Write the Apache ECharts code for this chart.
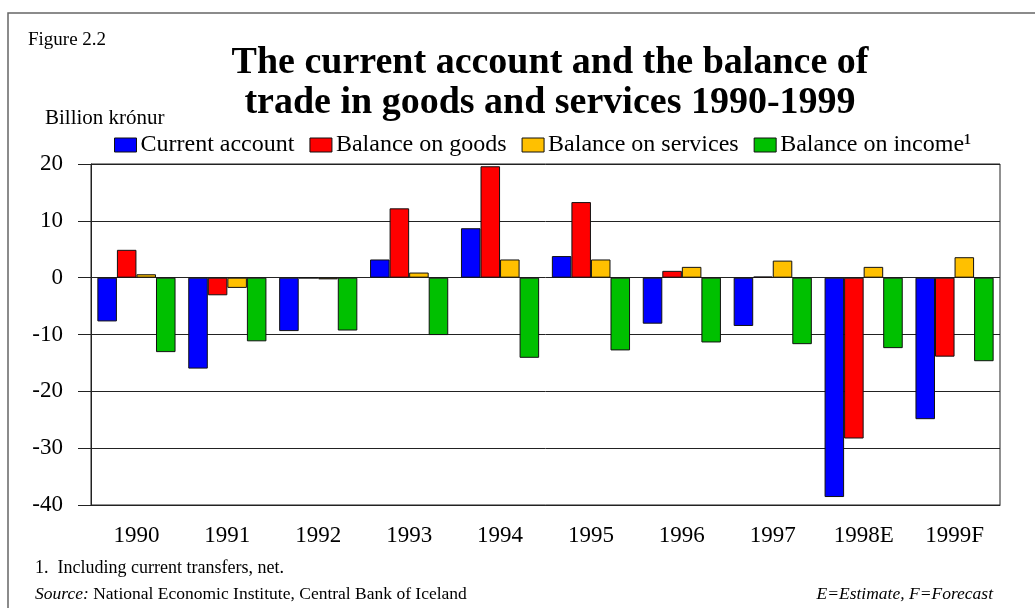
<!DOCTYPE html>
<html>
<head>
<meta charset="utf-8">
<script src="https://cdn.jsdelivr.net/npm/echarts@6/dist/echarts.min.js"></script>
<style>
  html, body { margin: 0; padding: 0; background: #fff; }
  #chart { width: 1035px; height: 608px; }
</style>
</head>
<body>
<div id="chart"></div>
<script>
// categories and series (billion krónur)
const years = ['1990', '1991', '1992', '1993', '1994', '1995', '1996', '1997', '1998E', '1999F'];
const currentAccount = [-7.7, -16.0, -9.4, 3.2, 8.7, 3.8, -8.1, -8.5, -38.6, -24.9];
const balanceGoods = [4.9, -3.1, -0.1, 12.2, 19.6, 13.3, 1.2, 0.2, -28.3, -13.9];
const balanceServices = [0.6, -1.8, -0.3, 0.9, 3.2, 3.2, 1.9, 3.0, 1.9, 3.6];
const balanceIncome = [-13.1, -11.2, -9.3, -10.1, -14.1, -12.8, -11.4, -11.7, -12.4, -14.7];

const serif = '"Liberation Serif", "Times New Roman", serif';

const chart = echarts.init(document.getElementById('chart'));

function bar(name, data, color) {
  return {
    name: name,
    type: 'bar',
    data: data,
    barGap: '0%',
    barCategoryGap: '14%',
    itemStyle: { color: color, borderColor: '#111', borderWidth: 1 },
    emphasis: { disabled: true }
  };
}

chart.setOption({
  animation: false,
  textStyle: { fontFamily: serif, color: '#000' },
  title: {
    text: 'The current account and the balance of\ntrade in goods and services 1990-1999',
    left: 545,
    top: 38,
    textAlign: 'center',
    textStyle: { fontFamily: serif, fontSize: 38, fontWeight: 'bold', lineHeight: 40, color: '#000' }
  },
  graphic: [
    { type: 'rect', shape: { x: 8, y: 13, width: 1040, height: 620 }, style: { fill: 'none', stroke: '#666', lineWidth: 1.5 }, silent: true },
    { type: 'text', left: 28, top: 31, style: { text: 'Figure 2.2', font: '19px ' + serif, fill: '#000' } },
    { type: 'text', left: 45, top: 108, style: { text: 'Billion krónur', font: '21px ' + serif, fill: '#000' } },
    { type: 'text', left: 35, top: 559, style: { text: '1.  Including current transfers, net.', font: '18px ' + serif, fill: '#000' } },
    { type: 'text', left: 35, top: 585, style: {
        text: '{i|Source:} National Economic Institute, Central Bank of Iceland',
        font: '17.5px ' + serif, fill: '#000',
        rich: { i: { fontStyle: 'italic', fontFamily: serif, fontSize: 17.5 } }
      } },
    { type: 'text', right: 42, top: 585, style: { text: 'E=Estimate, F=Forecast', font: 'italic 17.5px ' + serif, fill: '#000' } }
  ],
  legend: {
    left: 109,
    top: 128,
    itemWidth: 22,
    itemHeight: 14,
    itemGap: 15,
    selectedMode: false,
    icon: 'rect',
    itemStyle: { borderColor: '#111', borderWidth: 1 },
    textStyle: { fontFamily: serif, fontSize: 24, color: '#000', padding: [0, 0, 0, -1] }
  },
  grid: {
    left: 91,
    right: 35,
    top: 164,
    bottom: 103,
    show: true,
    borderColor: '#222',
    borderWidth: 1
  },
  xAxis: {
    type: 'category',
    data: years,
    axisLine: { onZero: false, lineStyle: { color: '#222', width: 1 } },
    axisTick: { alignWithLabel: true, length: 11, lineStyle: { color: '#222' } },
    axisLabel: { fontFamily: serif, fontSize: 23, color: '#000', margin: 19 }
  },
  yAxis: {
    type: 'value',
    min: -40,
    max: 20,
    interval: 10,
    axisLine: { show: true, lineStyle: { color: '#222', width: 1 } },
    axisTick: { show: true, length: 13, lineStyle: { color: '#222' } },
    axisLabel: { fontFamily: serif, fontSize: 23, color: '#000', margin: 28 },
    splitLine: { lineStyle: { color: '#222', width: 1 } }
  },
  series: [
    bar('Current account', currentAccount, '#0000ff'),
    bar('Balance on goods', balanceGoods, '#ff0000'),
    bar('Balance on services', balanceServices, '#ffc000'),
    bar('Balance on income¹', balanceIncome, '#00c000')
  ]
});
</script>
</body>
</html>
